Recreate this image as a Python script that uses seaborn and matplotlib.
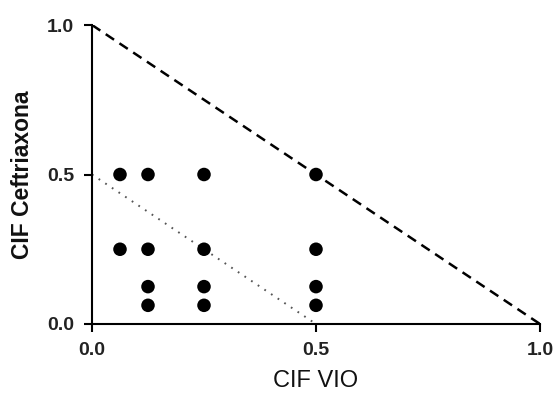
import matplotlib
matplotlib.use("Agg")
import matplotlib.pyplot as plt
import seaborn as sns
import pandas as pd

# Data
cif_vio = [0.0625, 0.125, 0.25, 0.5,
           0.0625, 0.125, 0.25, 0.5,
           0.125, 0.25, 0.5,
           0.125, 0.25, 0.5]
cif_ceftriaxona = [0.5, 0.5, 0.5, 0.5,
                   0.25, 0.25, 0.25, 0.25,
                   0.125, 0.125, 0.125,
                   0.0625, 0.0625, 0.0625]
additivity_x = [0.0, 1.0]
additivity_y = [1.0, 0.0]
synergy_x = [0.0, 0.5]
synergy_y = [0.5, 0.0]
ticks = [0.0, 0.5, 1.0]
tick_labels = ["0.0", "0.5", "1.0"]

sns.set_style("white")
plt.rcParams['font.family'] = ['Liberation Sans', 'DejaVu Sans']

df = pd.DataFrame({"x": cif_vio, "y": cif_ceftriaxona})

fig = plt.figure(figsize=(5.56, 3.96), dpi=100)
ax = fig.add_axes([92/556, 1 - 324/396, (540 - 92)/556, (324 - 25)/396])

sns.lineplot(x=additivity_x, y=additivity_y, ax=ax, color="black",
             linewidth=1.8, linestyle=(0, (4, 2.6)), estimator=None)
sns.lineplot(x=synergy_x, y=synergy_y, ax=ax, color="#555555",
             linewidth=1.4, linestyle=(0, (0.9, 3.2)), estimator=None)
sns.scatterplot(data=df, x="x", y="y", ax=ax, color="black", s=95,
                edgecolor="none", zorder=5)

ax.set_xlim(0, 1)
ax.set_ylim(0, 1)
ax.set_xticks(ticks)
ax.set_yticks(ticks)
ax.set_xticklabels(tick_labels, fontsize=14, fontweight="bold", color="#222222")
ax.set_yticklabels(tick_labels, fontsize=14, fontweight="bold", color="#222222")
ax.tick_params(axis="both", direction="out", length=6, width=1.5,
               color="black", pad=7, bottom=True, left=True)
for side in ["top", "right"]:
    ax.spines[side].set_visible(False)
for side in ["left", "bottom"]:
    ax.spines[side].set_linewidth(1.5)
    ax.spines[side].set_color("black")

ax.set_xlabel("CIF VIO", fontsize=17, color="#111111", labelpad=8)
ax.set_ylabel("CIF Ceftriaxona", fontsize=16.5, fontweight="bold",
              color="#111111", labelpad=9)

fig.savefig("out.png", dpi=100)
